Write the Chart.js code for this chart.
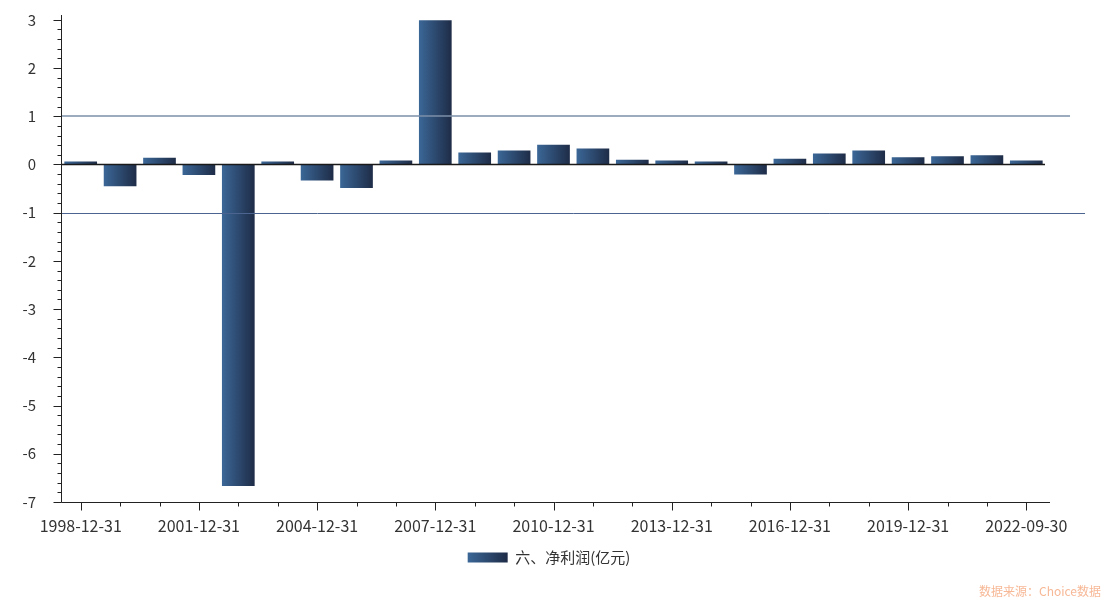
<!DOCTYPE html>
<html>
<head>
<meta charset="utf-8">
<script src="https://cdn.jsdelivr.net/npm/chart.js@4"></script>
<style>
  body { margin: 0; background: #fff; }
  #wrap { position: relative; width: 1105px; height: 600px; }
  #source {
    position: absolute; right: 4px; bottom: 1px;
    font: 12px "Microsoft YaHei", "Noto Sans CJK SC", sans-serif;
    color: #f7b896;
  }
</style>
</head>
<body>
<div id="wrap">
  <canvas id="chart1"></canvas>
  <div id="source">数据来源：Choice数据</div>
</div>
<script>
// report dates and net profit (亿元)
const dates = [
  "1998-12-31", "1999-12-31", "2000-12-31", "2001-12-31", "2002-12-31",
  "2003-12-31", "2004-12-31", "2005-12-31", "2006-12-31", "2007-12-31",
  "2008-12-31", "2009-12-31", "2010-12-31", "2011-12-31", "2012-12-31",
  "2013-12-31", "2014-12-31", "2015-12-31", "2016-12-31", "2017-12-31",
  "2018-12-31", "2019-12-31", "2020-12-31", "2021-12-31", "2022-09-30"
];
const netProfit = [
  0.06, -0.45, 0.14, -0.22, -6.67, 0.06, -0.33, -0.49, 0.08, 2.99,
  0.25, 0.29, 0.41, 0.33, 0.10, 0.08, 0.06, -0.21, 0.12, 0.23,
  0.29, 0.15, 0.17, 0.19, 0.08
];
const yTicks = [-7, -6, -5, -4, -3, -2, -1, 0, 1, 2, 3];
const seriesName = "六、净利润(亿元)";
const refLines = [1, -1];

const FONT = '"Microsoft YaHei", "Noto Sans CJK SC", sans-serif';
const BAR_PCT = 0.83;
const LEGEND_SHIFT = 26;

function barGradient(ctx, left, right) {
  const g = ctx.createLinearGradient(left, 0, right, 0);
  g.addColorStop(0, "#3b6797");
  g.addColorStop(1, "#1e2c47");
  return g;
}

// axis lines, ticks, zero line and the two reference lines
const axesPlugin = {
  id: "axesPlugin",
  afterLayout(chart) {
    // legend sits a bit right of the canvas centre in the original
    const lg = chart.legend;
    if (!lg) return;
    lg.left += LEGEND_SHIFT;
    lg.right += LEGEND_SHIFT;
    (lg.legendHitBoxes || []).forEach(hb => { hb.left += LEGEND_SHIFT; });
  },
  beforeDraw(chart) {
    const lg = chart.legend;
    if (lg && lg.legendHitBoxes && lg.legendHitBoxes.length && lg.legendItems.length) {
      const hb = lg.legendHitBoxes[0];
      lg.legendItems[0].fillStyle = barGradient(chart.ctx, hb.left, hb.left + 40);
    }
  },
  afterDatasetsDraw(chart) {
    const ctx = chart.ctx;
    const area = chart.chartArea;
    const x = chart.scales.x;
    const y = chart.scales.y;
    const left = Math.round(area.left) + 0.5;
    const bottom = Math.round(area.bottom) + 0.5;
    ctx.save();

    // reference lines
    ctx.lineWidth = 1.5;
    ctx.strokeStyle = "#7c8fa9";
    let py = Math.round(y.getPixelForValue(refLines[0]));
    ctx.beginPath(); ctx.moveTo(left, py); ctx.lineTo(area.right + 24, py); ctx.stroke();
    ctx.lineWidth = 1;
    ctx.strokeStyle = "#4b6590";
    py = Math.round(y.getPixelForValue(refLines[1])) + 0.5;
    ctx.beginPath(); ctx.moveTo(left, py); ctx.lineTo(area.right + 39, py); ctx.stroke();

    // zero line
    ctx.lineWidth = 1.5;
    ctx.strokeStyle = "#1a1a1a";
    py = y.getPixelForValue(0);
    ctx.beginPath(); ctx.moveTo(left, py); ctx.lineTo(area.right - 1, py); ctx.stroke();

    // y axis, major ticks on integers, 4 minor ticks between
    ctx.lineWidth = 1;
    ctx.strokeStyle = "#222";
    ctx.beginPath(); ctx.moveTo(left, area.top); ctx.lineTo(left, bottom); ctx.stroke();
    for (let i = -35; i <= 15; i++) {
      const ty = Math.round(y.getPixelForValue(i / 5)) + 0.5;
      const len = i % 5 === 0 ? 8 : 4;
      ctx.beginPath(); ctx.moveTo(left - len, ty); ctx.lineTo(left, ty); ctx.stroke();
    }

    // x axis, long tick every 3rd category
    ctx.beginPath(); ctx.moveTo(left, bottom); ctx.lineTo(area.right + 4, bottom); ctx.stroke();
    dates.forEach((d, i) => {
      const tx = Math.round(x.getPixelForValue(i)) + 0.5;
      const len = i % 3 === 0 ? 8 : 4;
      ctx.beginPath(); ctx.moveTo(tx, bottom); ctx.lineTo(tx, bottom + len); ctx.stroke();
    });
    ctx.restore();
  }
};

const chartElement = document.getElementById("chart1");
new Chart(chartElement.getContext("2d"), {
  type: "bar",
  data: {
    labels: dates,
    datasets: [{
      label: seriesName,
      data: netProfit,
      borderWidth: 0,
      barPercentage: BAR_PCT,
      categoryPercentage: 1,
      backgroundColor: (c) => {
        const chart = c.chart;
        const xs = chart.scales.x;
        if (!xs || c.dataIndex === undefined) return "#2c4770";
        const cx = xs.getPixelForValue(c.dataIndex);
        const w = xs.width / dates.length * BAR_PCT;
        if (!isFinite(cx) || !isFinite(w) || w <= 0) return "#2c4770";
        return barGradient(chart.ctx, cx - w / 2, cx + w / 2);
      }
    }]
  },
  options: {
    responsive: true,
    maintainAspectRatio: false,
    animation: false,
    layout: { padding: { top: 15, left: 0, right: 59, bottom: 25 } },
    plugins: {
      legend: {
        display: true,
        position: "bottom",
        labels: {
          boxWidth: 40,
          boxHeight: 10,
          padding: 10,
          color: "#333",
          font: { family: FONT, size: 15 }
        }
      },
      tooltip: { enabled: false }
    },
    scales: {
      x: {
        grid: { display: false },
        border: { display: false },
        ticks: {
          autoSkip: false,
          maxRotation: 0,
          padding: 6,
          color: "#333",
          font: { family: FONT, size: 16 },
          callback: (v, i) => (i % 3 === 0 ? dates[i] : "")
        },
        afterFit: (s) => { s.height = 38; s.paddingLeft = 0; s.paddingRight = 0; }
      },
      y: {
        min: -7,
        max: 3.1,
        grid: { display: false },
        border: { display: false },
        ticks: {
          padding: 17,
          color: "#333",
          font: { family: FONT, size: 15 }
        },
        afterBuildTicks: (s) => { s.ticks = yTicks.map(v => ({ value: v })); },
        afterFit: (s) => { s.width = 61; s.paddingTop = 0; s.paddingBottom = 0; }
      }
    }
  },
  plugins: [axesPlugin]
});
</script>
</body>
</html>
